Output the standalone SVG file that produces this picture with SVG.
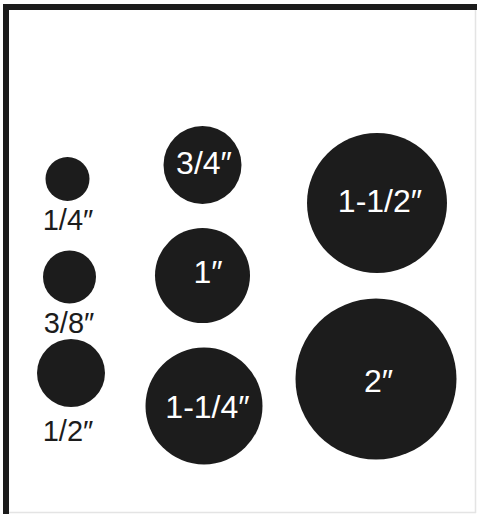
<svg xmlns="http://www.w3.org/2000/svg" width="477" height="514" viewBox="0 0 477 514">
<style>
.dot{fill:#1c1c1c}
.lb{font-family:"Liberation Sans",Arial,sans-serif;font-size:29px;fill:#1c1c1c;text-anchor:middle}
.lw{font-family:"Liberation Sans",Arial,sans-serif;font-size:32px;fill:#ffffff;text-anchor:middle}
</style>
<rect x="0" y="0" width="477" height="514" fill="#ffffff"/>
<g id="frame">
<line x1="475.5" y1="10" x2="475.5" y2="513" stroke="#e4e4e4" stroke-width="1.5"/>
<line x1="9" y1="512.5" x2="476" y2="512.5" stroke="#e4e4e4" stroke-width="1.5"/>
<rect x="3" y="4" width="474" height="6" fill="#1c1c1c"/>
<rect x="3" y="4" width="6" height="510" fill="#1c1c1c"/>
</g>
<g id="d14"><circle class="dot" cx="67.5" cy="179" r="22"/><text class="lb" x="68" y="230">1/4″</text></g>
<g id="d38"><circle class="dot" cx="69.5" cy="277" r="26.5"/><text class="lb" x="69" y="333">3/8″</text></g>
<g id="d12"><circle class="dot" cx="71" cy="373" r="34"/><text class="lb" x="68" y="441">1/2″</text></g>
<g id="d34"><circle class="dot" cx="202.5" cy="165" r="39"/><text class="lw" x="204" y="174">3/4″</text></g>
<g id="d1"><circle class="dot" cx="202.5" cy="275.5" r="47.5"/><text class="lw" x="208" y="283">1″</text></g>
<g id="d114"><circle class="dot" cx="204" cy="406" r="58.5"/><text class="lw" x="207.5" y="418">1-1/4″</text></g>
<g id="d112"><circle class="dot" cx="377" cy="203" r="70"/><text class="lw" x="380" y="212">1-1/2″</text></g>
<g id="d2"><circle class="dot" cx="376" cy="379" r="80.5"/><text class="lw" x="378.5" y="392">2″</text></g>
</svg>
